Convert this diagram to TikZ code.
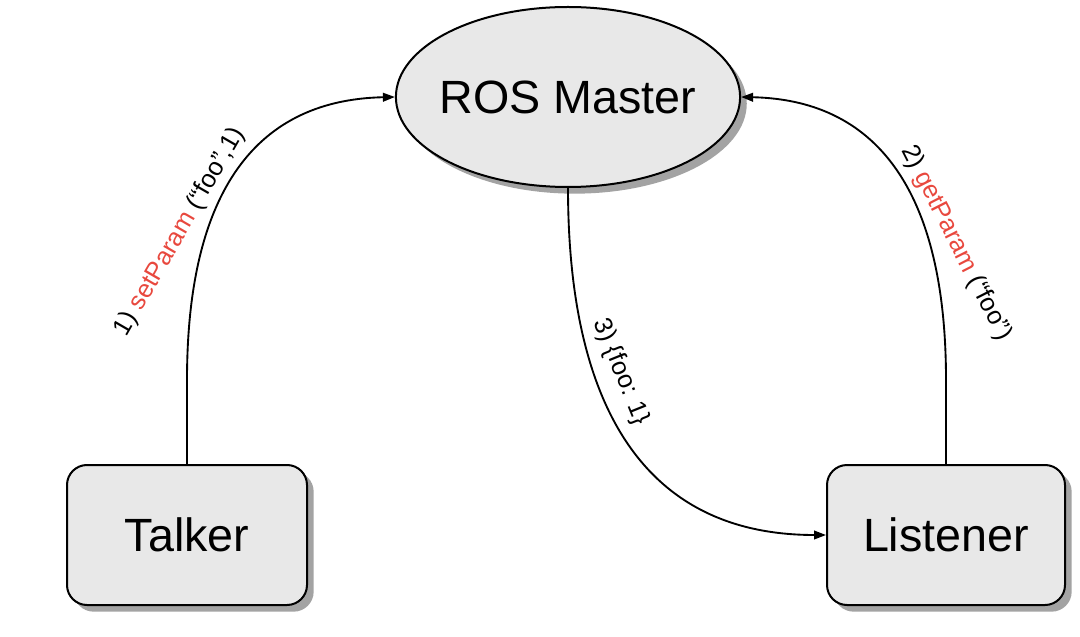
\documentclass[tikz,border=0pt]{standalone}
\usepackage{fontspec}
\setmainfont{Liberation Sans}
\usetikzlibrary{shapes.geometric,shadows,arrows.meta}
\definecolor{nodefill}{RGB}{232,232,232}
\definecolor{labred}{RGB}{232,72,62}
\begin{document}
\begin{tikzpicture}[x=0.75pt,y=0.75pt,
  shad/.style={drop shadow={shadow xshift=5pt,shadow yshift=-5pt,fill=black!45,opacity=0.8}},
  master/.style={ellipse,draw=black,line width=1.5pt,fill=nodefill,shad,
    minimum width=256.5pt,minimum height=135pt,inner xsep=-5pt,inner ysep=0pt,font=\fontsize{35}{40}\selectfont},
  procbox/.style={rectangle,rounded corners=15pt,draw=black,line width=1.5pt,fill=nodefill,shad,
    minimum height=105pt,inner sep=0pt,font=\fontsize{35}{40}\selectfont},
  conn/.style={line width=1.4pt,-{Triangle[length=9pt,width=6.5pt]}},
  lab/.style={font=\fontsize{19}{22}\selectfont,inner sep=0pt}
]
\useasboundingbox (0,0) rectangle (1080,636);
\node[master] (ros) at (568,539) {ROS Master};
\node[procbox,minimum width=180pt] (talker) at (187,101) {Talker};
\node[procbox,minimum width=178.5pt] (listener) at (946,101) {Listener};

\draw[conn] (talker.north) -- (187,256) .. controls (187,436) and (250,536) .. (ros.west);
\draw[conn] (listener.north) -- (946,256) .. controls (946,436) and (883,536) .. (ros.east);
\draw[conn] (ros.south) .. controls (568,236) and (640,101) .. (listener.west);

\node[lab,rotate=60] (l1) at (180,404) {1) \textcolor{labred}{setParam} (“foo”,1)};
\node[lab,rotate=-63] (l2) at (956,393) {2) \textcolor{labred}{getParam} (“foo”)};
\node[lab,rotate=-68] (l3) at (621,264) {3) \{foo: 1\}};
\end{tikzpicture}
\end{document}
